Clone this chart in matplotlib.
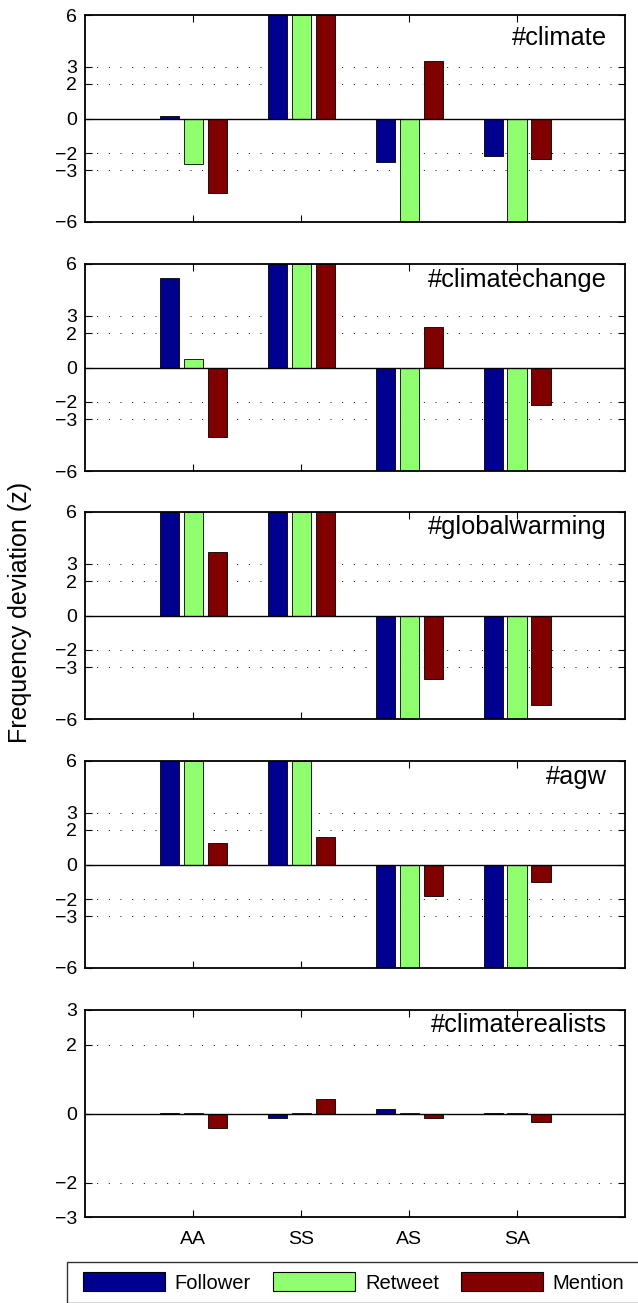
import matplotlib
matplotlib.use("Agg")
import matplotlib.pyplot as plt
import numpy as np
from matplotlib.patches import Patch
from matplotlib.legend_handler import HandlerPatch

plt.rcParams['font.family'] = ['Liberation Sans', 'DejaVu Sans']

categories = ['AA', 'SS', 'AS', 'SA']
series_names = ['Follower', 'Retweet', 'Mention']
hashtags = ['#climate', '#climatechange', '#globalwarming', '#agw', '#climaterealists']

climate_follower = [0.15, 6, -2.5, -2.17]
climate_retweet = [-2.65, 6, -6, -6]
climate_mention = [-4.32, 6, 3.31, -2.36]

climatechange_follower = [5.18, 6, -6, -6]
climatechange_retweet = [0.5, 6, -6, -6]
climatechange_mention = [-4.02, 6, 2.36, -2.17]

globalwarming_follower = [6, 6, -6, -6]
globalwarming_retweet = [6, 6, -6, -6]
globalwarming_mention = [3.69, 6, -3.71, -5.21]

agw_follower = [6, 6, -6, -6]
agw_retweet = [6, 6, -6, -6]
agw_mention = [1.22, 1.57, -1.80, -1.0]

climaterealists_follower = [0.01, -0.135, 0.13, 0.01]
climaterealists_retweet = [0.01, 0.01, 0.01, 0.01]
climaterealists_mention = [-0.41, 0.43, -0.13, -0.25]

panels = [
    (climate_follower, climate_retweet, climate_mention),
    (climatechange_follower, climatechange_retweet, climatechange_mention),
    (globalwarming_follower, globalwarming_retweet, globalwarming_mention),
    (agw_follower, agw_retweet, agw_mention),
    (climaterealists_follower, climaterealists_retweet, climaterealists_mention),
]

yticks_big = [-6, -3, -2, 0, 2, 3, 6]
yticks_small = [-3, -2, 0, 2, 3]

colors = ['#00008F', '#8FFF70', '#800000']

W, H = 638, 1303
fig = plt.figure(figsize=(W / 100, H / 100), dpi=100)

left_px, right_px = 85.4, 625.0
tops = [15, 264, 512, 761, 1010]
height_px = 207
title_base = [30, 23, 22, 23, 22]

x = np.arange(1, len(categories) + 1)
offsets = [-0.222, 0.0, 0.222]
bw = 0.178

for i, (vals, tag) in enumerate(zip(panels, hashtags)):
    ax = fig.add_axes([left_px / W, 1 - (tops[i] + height_px) / H,
                       (right_px - left_px) / W, height_px / H])
    for j in range(3):
        ax.bar(x + offsets[j], vals[j], width=bw, color=colors[j],
               edgecolor='black', linewidth=0.6, zorder=2)
    ax.axhline(0, color='black', linewidth=1.0, zorder=3)
    ax.set_xlim(0, 5)
    if i < 4:
        ax.set_ylim(-6, 6)
        ax.set_yticks(yticks_big)
        grid_vals = [-3, -2, 2, 3]
    else:
        ax.set_ylim(-3, 3)
        ax.set_yticks(yticks_small)
        grid_vals = [-2, 2]
    for g in grid_vals:
        ax.axhline(g, linestyle=(0, (1, 11)), color='black', linewidth=0.7, zorder=1)
    ax.set_xticks(x)
    if i == 4:
        ax.set_xticklabels(categories)
    else:
        ax.set_xticklabels([])
    ax.tick_params(axis='both', direction='in', length=5, width=0.8,
                   top=True, right=True, labelsize=14, colors='black')
    ax.tick_params(axis='y', pad=6)
    ax.tick_params(axis='x', pad=10)
    for s in ax.spines.values():
        s.set_linewidth(1.3)
        s.set_zorder(4)
    ax.text((607 - left_px) / (right_px - left_px), 1 - title_base[i] / height_px,
            tag, transform=ax.transAxes, ha='right', va='baseline', fontsize=18.3)

fig.text(20 / W, 1 - 612 / H, 'Frequency deviation (z)', rotation=90,
         ha='center', va='center', fontsize=18)

handles = [Patch(facecolor=c, edgecolor='black', linewidth=0.8) for c in colors]
# invisible spacer entry: the reference legend box runs past the right edge of the figure
handles.append(Patch(facecolor='none', edgecolor='none'))
labels = series_names + ['']
leg = fig.legend(handles, labels, loc='upper left',
                 bbox_to_anchor=(66.7 / W, 1 - 1262 / H), ncol=4, fontsize=14.5,
                 frameon=True, fancybox=False, handlelength=4.37, handleheight=1.09,
                 handletextpad=0.5, columnspacing=0.78, borderpad=0.5,
                 borderaxespad=0,
                 handler_map={Patch: HandlerPatch(xpad=0.3)})
leg.get_frame().set_edgecolor('black')
leg.get_frame().set_linewidth(1.0)

fig.savefig('out.png', dpi=100)
